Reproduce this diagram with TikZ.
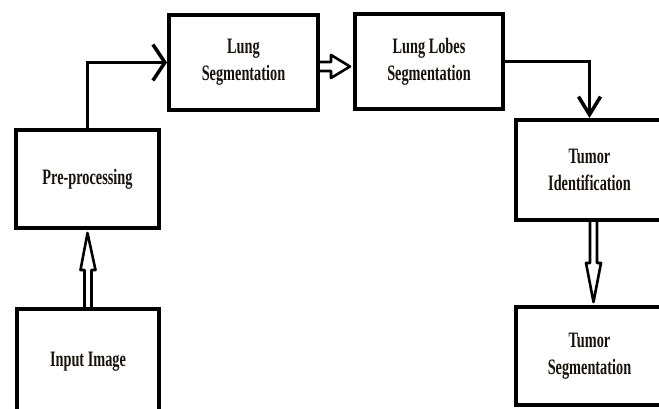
\documentclass[tikz,border=0pt]{standalone}
\usepackage{fontspec}
\newfontfamily\boxfont[FakeStretch=0.65]{Liberation Serif}
\usetikzlibrary{arrows.meta,calc}
\definecolor{ink}{RGB}{0,0,0}
\definecolor{inktext}{RGB}{25,18,12}
\tikzset{
  box/.style={draw=ink,line width=4pt,rectangle,align=center,text=inktext,
    font=\boxfont\bfseries\fontsize{22}{27}\selectfont,inner sep=2pt},
  flow/.style={draw=ink,line width=3pt,line join=miter,-{Straight Barb[#1]}},
  flow/.default={length=12pt,width=36pt,line width=3.5pt},
  hollow/.style={draw=ink,line width=2.6pt,line join=round},
}
\begin{document}
\begin{tikzpicture}[x=1pt,y=1pt]
  \clip (0,0) rectangle (659,409);
  \useasboundingbox (0,0) rectangle (659,409);
  % stages
  \node[box,minimum width=142pt,minimum height=106pt] (input) at (88,47) {Input Image};
  \node[box,minimum width=143pt,minimum height=98pt] (pre) at (87.5,230) {Pre-processing};
  \node[box,minimum width=149pt,minimum height=95pt] (lungseg) at (243.5,346.5) {Lung\\Segmentation};
  \node[box,minimum width=148pt,minimum height=95pt] (lobes) at (429,347.5) {Lung Lobes\\Segmentation};
  \node[box,minimum width=147pt,minimum height=100pt] (tumorid) at (589.5,239) {Tumor\\Identification};
  \node[box,minimum width=147pt,minimum height=98pt] (tumorseg) at (589.5,53) {Tumor\\Segmentation};
  % plain arrows
  \draw[flow] (pre.north) |- (lungseg.west);
  \draw[flow={length=18pt,width=22pt,line width=3.5pt}] (lobes.east) -| (tumorid.north);
  % hollow arrows
  \draw[hollow] let \p1=(input.north), \p2=(pre.south) in
    (\x1-3.5pt,\y1) -- (\x1-3.5pt,\y2-40pt) -- (\x1-7.5pt,\y2-40pt) -- (\x2,\y2-3pt)
    -- (\x1+7.5pt,\y2-40pt) -- (\x1+3.5pt,\y2-40pt) -- (\x1+3.5pt,\y1);
  \draw[hollow] let \p1=(lungseg.east), \p2=(lobes.west), \n1={\y1-4pt} in
    (\x1,\n1-4.5pt) -- (\x2-22pt,\n1-4.5pt) -- (\x2-22pt,\n1-11.5pt) -- (\x2-3pt,\n1)
    -- (\x2-22pt,\n1+11.5pt) -- (\x2-22pt,\n1+4.5pt) -- (\x1,\n1+4.5pt);
  \draw[hollow] let \p1=(tumorid.south), \p2=(tumorseg.north), \n1={\x1+4pt} in
    (\n1-3.5pt,\y1) -- (\n1-3.5pt,\y2+42pt) -- (\n1-7.5pt,\y2+42pt) -- (\n1,\y2+3pt)
    -- (\n1+7.5pt,\y2+42pt) -- (\n1+3.5pt,\y2+42pt) -- (\n1+3.5pt,\y1);
\end{tikzpicture}
\end{document}
